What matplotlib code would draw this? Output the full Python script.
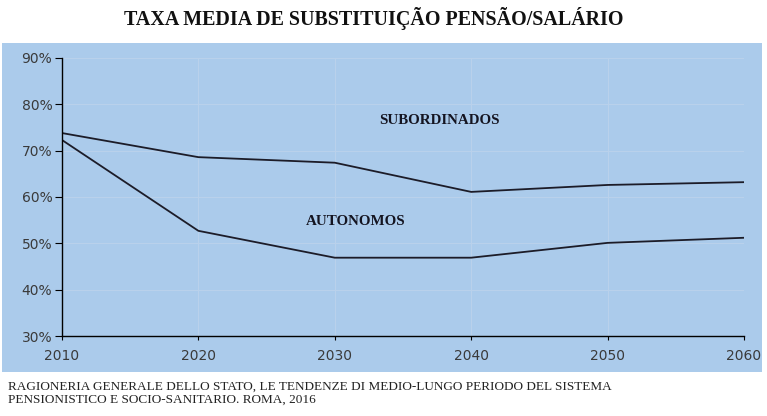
import matplotlib.pyplot as plt
from matplotlib.patches import Rectangle
from matplotlib.ticker import FuncFormatter

years = [2010, 2020, 2030, 2040, 2050, 2060]
subordinados = [73.8, 68.6, 67.4, 61.1, 62.6, 63.2]
autonomos = [72.3, 52.7, 46.9, 46.9, 50.1, 51.2]
y_ticks = [30, 40, 50, 60, 70, 80, 90]

title = 'TAXA MEDIA DE SUBSTITUIÇÃO PENSÃO/SALÁRIO'
source = ('RAGIONERIA GENERALE DELLO STATO, LE TENDENZE DI MEDIO-LUNGO PERIODO DEL SISTEMA\n'
          'PENSIONISTICO E SOCIO-SANITARIO. ROMA, 2016')

bg = '#abcbeb'
serif = ['Liberation Serif', 'DejaVu Serif']

fig = plt.figure(figsize=(7.67, 4.16), dpi=100)
# blue panel behind the plot, like the excel chart area
fig.patches.append(Rectangle((0.003, 0.106), 0.99, 0.791, transform=fig.transFigure,
                             facecolor=bg, edgecolor='none', zorder=-1))

ax = fig.add_axes([0.0808, 0.1923, 0.8892, 0.6683])
ax.set_facecolor('none')

ax.plot(years, subordinados, color='#1c1c28', lw=1.3)
ax.plot(years, autonomos, color='#1c1c28', lw=1.3)

ax.set_xlim(2010, 2060)
ax.set_ylim(30, 90)
ax.set_xticks(years)
ax.set_yticks(y_ticks)
ax.yaxis.set_major_formatter(FuncFormatter(lambda v, p: f'{v:.0f}%'))
ax.grid(True, color='#b9d1eb', lw=0.8)
ax.set_axisbelow(True)

for s in ['top', 'right']:
    ax.spines[s].set_visible(False)
for s in ['left', 'bottom']:
    ax.spines[s].set_color('black')
    ax.spines[s].set_linewidth(1.0)

ax.tick_params(axis='both', colors='black', labelcolor='#3a3a3a', labelsize=10)
ax.tick_params(axis='y', length=5, pad=2)
ax.tick_params(axis='x', length=3, pad=6)

ax.text(2037.7, 76.6, 'SUBORDINADOS', family=serif, fontweight='bold', fontsize=10.8,
        ha='center', va='center', color='#141420')
ax.text(2031.55, 54.8, 'AUTONOMOS', family=serif, fontweight='bold', fontsize=10.8,
        ha='center', va='center', color='#141420')

fig.text(0.487, 0.955, title, family=serif, fontweight='bold', fontsize=14.4,
         ha='center', va='center', color='#111111')
fig.text(0.01, 0.055, source, family=serif, fontsize=9.5, ha='left', va='center',
         color='#222222', linespacing=1.1)

fig.savefig('out.png', dpi=100)
